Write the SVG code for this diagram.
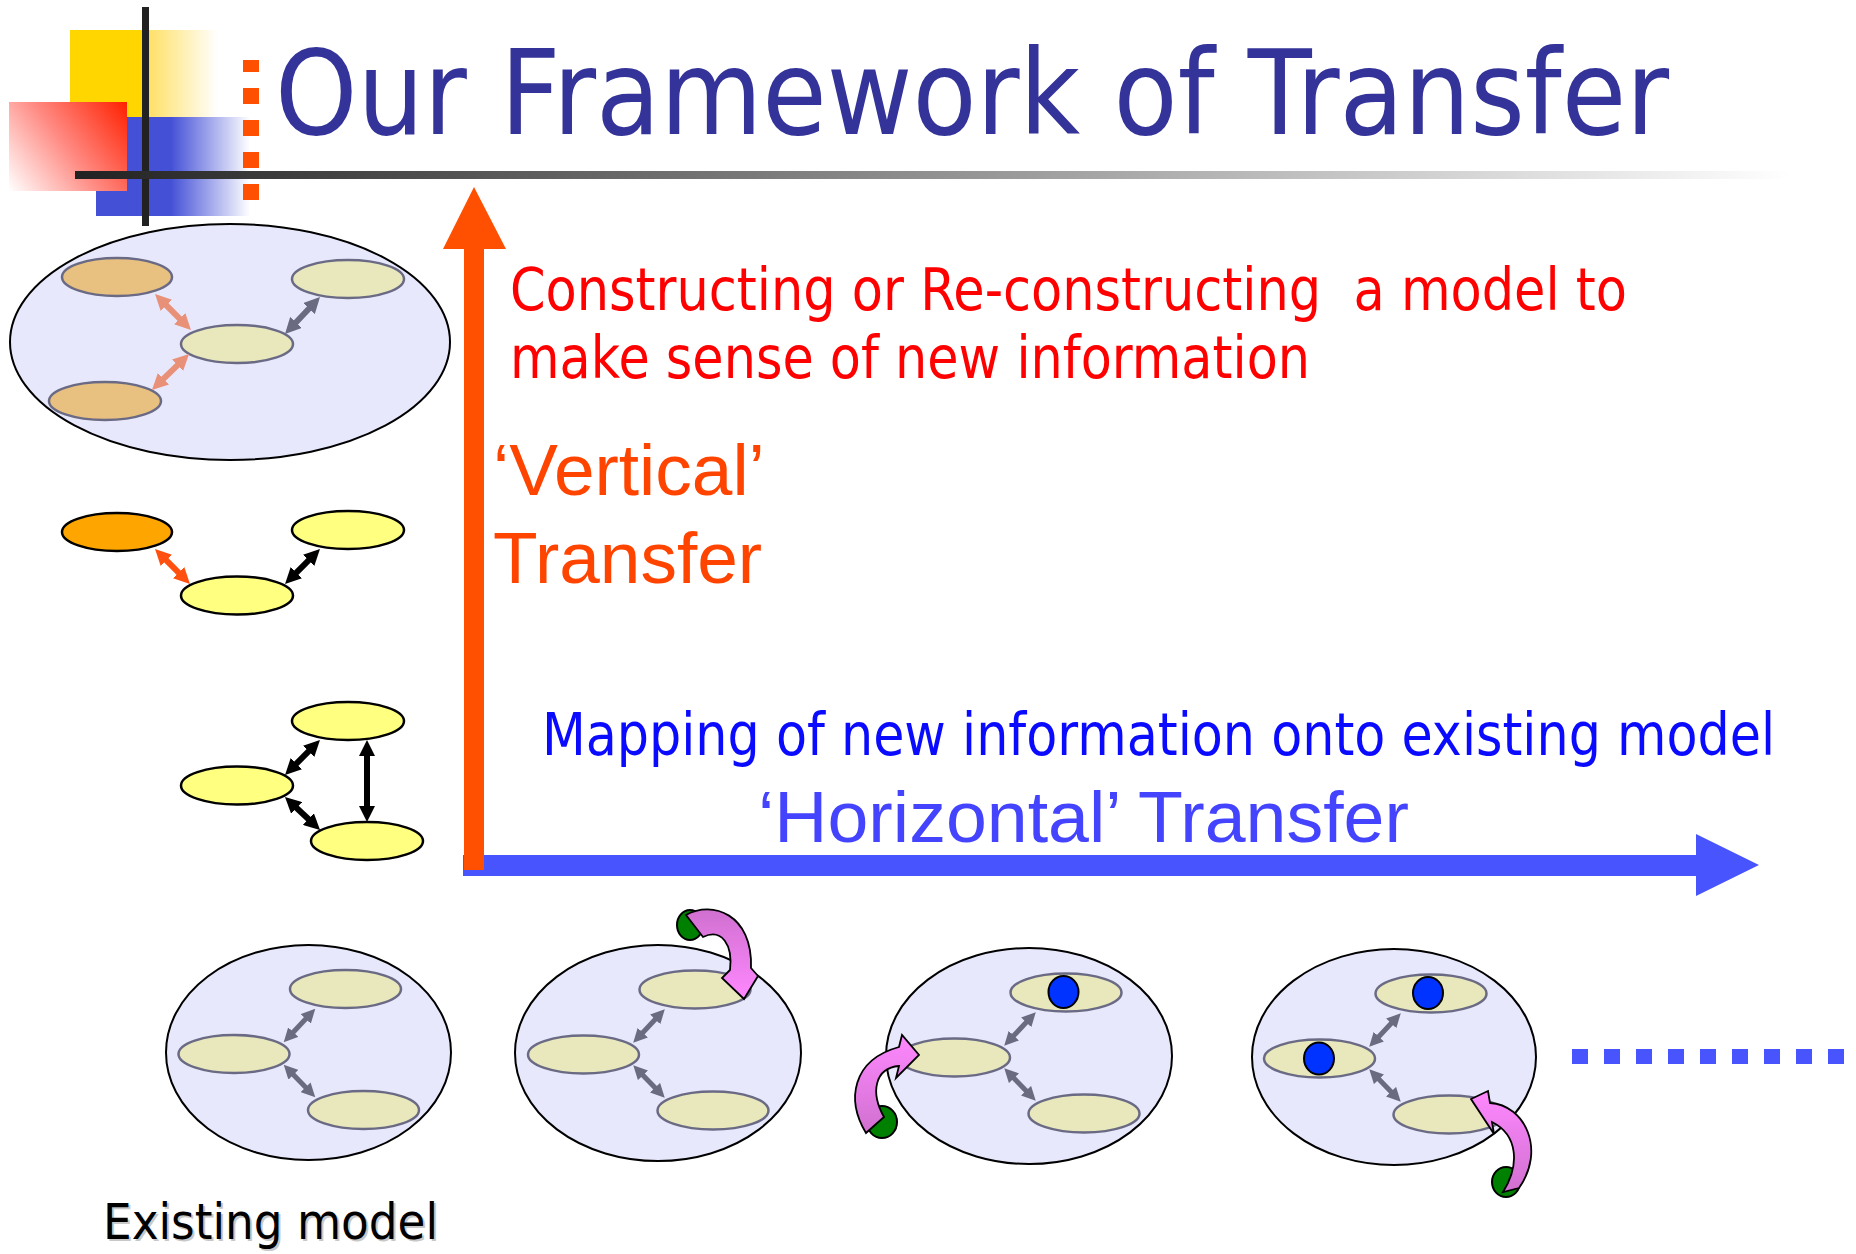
<svg xmlns="http://www.w3.org/2000/svg" width="1856" height="1254" viewBox="0 0 1856 1254">
  <defs>
    <linearGradient id="gYellow" x1="70" y1="0" x2="218" y2="0" gradientUnits="userSpaceOnUse">
      <stop offset="0" stop-color="#ffd600"/>
      <stop offset="0.53" stop-color="#ffd600"/>
      <stop offset="0.54" stop-color="#ffe16a"/>
      <stop offset="1" stop-color="#ffffff"/>
    </linearGradient>
    <linearGradient id="gBlue" x1="96" y1="0" x2="250" y2="0" gradientUnits="userSpaceOnUse">
      <stop offset="0" stop-color="#4450d6"/>
      <stop offset="0.49" stop-color="#4450d6"/>
      <stop offset="0.5" stop-color="#4a56d8"/>
      <stop offset="1" stop-color="#ffffff"/>
    </linearGradient>
    <linearGradient id="gRed" x1="127" y1="102" x2="9" y2="191" gradientUnits="userSpaceOnUse">
      <stop offset="0" stop-color="#ff2000"/>
      <stop offset="0.5" stop-color="#ff8880"/>
      <stop offset="1" stop-color="#ffffff"/>
    </linearGradient>
    <linearGradient id="gRule" x1="75" y1="0" x2="1790" y2="0" gradientUnits="userSpaceOnUse">
      <stop offset="0" stop-color="#222222"/>
      <stop offset="1" stop-color="#ffffff"/>
    </linearGradient>
    <linearGradient id="pinkDown" x1="0" y1="0" x2="0" y2="1">
      <stop offset="0" stop-color="#d070d0"/>
      <stop offset="1" stop-color="#ff88ff"/>
    </linearGradient>
    <linearGradient id="pinkUp" x1="0" y1="1" x2="0" y2="0">
      <stop offset="0" stop-color="#d070d0"/>
      <stop offset="1" stop-color="#ff88ff"/>
    </linearGradient>

    <marker id="mSalmon" viewBox="0 -8 16 16" markerUnits="userSpaceOnUse" markerWidth="16" markerHeight="16" refX="8" refY="0" orient="auto-start-reverse">
      <path d="M0,-8 L16,0 L0,8 z" fill="#e89078"/>
    </marker>
    <marker id="mGrey" viewBox="0 -8 16 16" markerUnits="userSpaceOnUse" markerWidth="16" markerHeight="16" refX="8" refY="0" orient="auto-start-reverse">
      <path d="M0,-8 L16,0 L0,8 z" fill="#6a6a80"/>
    </marker>
    <marker id="mOrange" viewBox="0 -8 16 16" markerUnits="userSpaceOnUse" markerWidth="16" markerHeight="16" refX="8" refY="0" orient="auto-start-reverse">
      <path d="M0,-8 L16,0 L0,8 z" fill="#ff5010"/>
    </marker>
    <marker id="mBlack" viewBox="0 -8 16 16" markerUnits="userSpaceOnUse" markerWidth="16" markerHeight="16" refX="8" refY="0" orient="auto-start-reverse">
      <path d="M0,-8 L16,0 L0,8 z" fill="#000000"/>
    </marker>
    <marker id="mGreySm" viewBox="0 -7 14 14" markerUnits="userSpaceOnUse" markerWidth="14" markerHeight="14" refX="7" refY="0" orient="auto-start-reverse">
      <path d="M0,-7 L14,0 L0,7 z" fill="#6a6a80"/>
    </marker>
  </defs>

  <style>
    .outer { fill: #e8e8fc; stroke: #000000; stroke-width: 2; }
    .soft { fill: #e8e8bc; stroke: #6a6a85; stroke-width: 2.5; }
    .softOrange { fill: #e8c080; stroke: #6a6a85; stroke-width: 2.5; }
    .bright { fill: #ffff80; stroke: #000000; stroke-width: 2.5; }
    .brightOrange { fill: #ffa500; stroke: #000000; stroke-width: 2.5; }
    .dot { fill: #0033ff; stroke: #000000; stroke-width: 2; }
    .seed { fill: #008000; stroke: #000000; stroke-width: 2; }
    .swoop { stroke: #000000; stroke-width: 1.8; stroke-linejoin: miter; }
    .link { fill: none; stroke-width: 6; }
    .link-sm { fill: none; stroke-width: 5; }
    .tahoma { font-family: "DejaVu Sans", Verdana, sans-serif; }
    .arial { font-family: "Liberation Sans", Arial, sans-serif; }
  </style>

  <rect x="0" y="0" width="1856" height="1254" fill="#ffffff"/>

  <!-- corner ornament -->
  <g id="ornament">
    <rect x="70" y="30" width="148" height="87" fill="url(#gYellow)"/>
    <rect x="96" y="117" width="154" height="99" fill="url(#gBlue)"/>
    <rect x="9" y="102" width="118" height="89" fill="url(#gRed)"/>
    <rect x="142" y="7" width="7" height="219" fill="#222222"/>
    <rect x="75" y="171" width="1715" height="8" fill="url(#gRule)"/>
    <g fill="#ff4f00">
      <rect x="243" y="60" width="16" height="12"/>
      <rect x="243" y="88" width="16" height="16"/>
      <rect x="243" y="120" width="16" height="16"/>
      <rect x="243" y="152" width="16" height="16"/>
      <rect x="243" y="184" width="16" height="16"/>
    </g>
  </g>

  <!-- narrowed sans for the title -->
  <text id="title" class="tahoma" transform="scale(0.873 1)" x="315" y="134" font-size="118" fill="#333399" textLength="1597" lengthAdjust="spacingAndGlyphs">Our Framework of Transfer</text>

  <!-- axes: horizontal first, vertical drawn over it -->
  <g id="axes">
    <path id="axis-horizontal" d="M463,855 H1696 V834 L1759,865 L1696,896 V876 H463 Z" fill="#4855ff"/>
    <path id="axis-vertical" d="M464,870 V249 H443 L474,187 L506,249 H484 V870 Z" fill="#ff4f00"/>
  </g>

  <!-- axis captions -->
  <g id="captions">
    <text class="tahoma" x="510" y="310" font-size="58" fill="#ff0000" style="white-space:pre" textLength="1117" lengthAdjust="spacingAndGlyphs">Constructing or Re-constructing  a model to</text>
    <text class="tahoma" x="510" y="378" font-size="58" fill="#ff0000" textLength="800" lengthAdjust="spacingAndGlyphs">make sense of new information</text>
    <text class="arial" x="493" y="495" font-size="73" fill="#ff4400">‘Vertical’</text>
    <text class="arial" x="493" y="583" font-size="73" fill="#ff4400">Transfer</text>
    <text class="tahoma" transform="scale(0.874 1)" x="620" y="755" font-size="58" fill="#0a0aff" textLength="1411" lengthAdjust="spacingAndGlyphs">Mapping of new information onto existing model</text>
    <text class="arial" x="758" y="842" font-size="73" fill="#4444ff" textLength="651" lengthAdjust="spacingAndGlyphs">‘Horizontal’ Transfer</text>
  </g>

  <!-- left column: reconstructed model, intermediate model, initial model -->
  <g id="model-reconstructed">
    <ellipse class="outer" cx="230" cy="342" rx="220" ry="118"/>
    <ellipse class="softOrange" cx="117" cy="277" rx="55" ry="19"/>
    <ellipse class="soft" cx="348" cy="279" rx="56" ry="19"/>
    <ellipse class="soft" cx="237" cy="344" rx="56" ry="19"/>
    <ellipse class="softOrange" cx="105" cy="401" rx="56" ry="19"/>
  </g>

  <g id="model-intermediate">
    <ellipse class="brightOrange" cx="117" cy="532" rx="55" ry="19"/>
    <ellipse class="bright" cx="348" cy="530" rx="56" ry="19"/>
    <ellipse class="bright" cx="237" cy="595.5" rx="56" ry="19"/>
  </g>

  <g id="model-initial">
    <ellipse class="bright" cx="348" cy="721" rx="56" ry="19"/>
    <ellipse class="bright" cx="237" cy="785.5" rx="56" ry="19"/>
    <ellipse class="bright" cx="367" cy="841" rx="56" ry="19"/>
  </g>

  <!-- bottom row: existing model and successive mappings -->
  <g id="model-existing">
    <ellipse class="outer" cx="308.5" cy="1052.5" rx="142.5" ry="107.5"/>
    <ellipse class="soft" cx="345.5" cy="989" rx="55.5" ry="19"/>
    <ellipse class="soft" cx="234" cy="1054" rx="55.5" ry="19"/>
    <ellipse class="soft" cx="363.5" cy="1110" rx="55.5" ry="19"/>
  </g>

  <g id="model-map-1">
    <ellipse class="outer" cx="658" cy="1053" rx="143" ry="108"/>
    <g transform="translate(349.5 0.5)">
      <ellipse class="soft" cx="345.5" cy="989" rx="55.5" ry="19"/>
      <ellipse class="soft" cx="234" cy="1054" rx="55.5" ry="19"/>
      <ellipse class="soft" cx="363.5" cy="1110" rx="55.5" ry="19"/>
    </g>
  </g>

  <g id="model-map-2">
    <ellipse class="outer" cx="1029" cy="1056" rx="143" ry="108"/>
    <g transform="translate(720.5 3.5)">
      <ellipse class="soft" cx="345.5" cy="989" rx="55.5" ry="19"/>
      <ellipse class="soft" cx="234" cy="1054" rx="55.5" ry="19"/>
      <ellipse class="soft" cx="363.5" cy="1110" rx="55.5" ry="19"/>
    </g>
    <ellipse class="dot" cx="1063.5" cy="992" rx="15" ry="16"/>
  </g>

  <g id="model-map-3">
    <ellipse class="outer" cx="1394" cy="1057" rx="142" ry="108"/>
    <g transform="translate(1085.5 4.5)">
      <ellipse class="soft" cx="345.5" cy="989" rx="55.5" ry="19"/>
      <ellipse class="soft" cx="234" cy="1054" rx="55.5" ry="19"/>
      <ellipse class="soft" cx="363.5" cy="1110" rx="55.5" ry="19"/>
    </g>
    <ellipse class="dot" cx="1428" cy="993" rx="15" ry="16"/>
    <ellipse class="dot" cx="1319" cy="1058.5" rx="15" ry="16"/>
  </g>

  <!-- links between concepts -->
  <g id="connectors">
    <line class="link" x1="160.7" y1="299.7" x2="185.3" y2="324.3" stroke="#e89078" marker-start="url(#mSalmon)" marker-end="url(#mSalmon)"/>
    <line class="link" x1="157.7" y1="384.4" x2="183.3" y2="359.6" stroke="#e89078" marker-start="url(#mSalmon)" marker-end="url(#mSalmon)"/>
    <line class="link" x1="290.5" y1="328.2" x2="314.5" y2="302.8" stroke="#6a6a80" marker-start="url(#mGrey)" marker-end="url(#mGrey)"/>

    <line class="link" x1="160.7" y1="554.7" x2="184.3" y2="578.3" stroke="#ff5010" marker-start="url(#mOrange)" marker-end="url(#mOrange)"/>
    <line class="link" x1="290.7" y1="578.3" x2="314.3" y2="554.7" stroke="#000000" marker-start="url(#mBlack)" marker-end="url(#mBlack)"/>

    <line class="link" x1="290.7" y1="769.3" x2="314.3" y2="745.7" stroke="#000000" marker-start="url(#mBlack)" marker-end="url(#mBlack)"/>
    <line class="link" x1="290.8" y1="802.5" x2="314.2" y2="824.5" stroke="#000000" marker-start="url(#mBlack)" marker-end="url(#mBlack)"/>
    <line class="link" x1="367" y1="748" x2="367" y2="814" stroke="#000000" marker-start="url(#mBlack)" marker-end="url(#mBlack)"/>

    <g id="links-existing">
      <line class="link-sm" x1="288.5" y1="1037.2" x2="310.5" y2="1013.8" stroke="#6a6a80" marker-start="url(#mGreySm)" marker-end="url(#mGreySm)"/>
      <line class="link-sm" x1="288.6" y1="1069.7" x2="310.4" y2="1092.3" stroke="#6a6a80" marker-start="url(#mGreySm)" marker-end="url(#mGreySm)"/>
    </g>
    <g transform="translate(349.5 0.5)">
      <line class="link-sm" x1="288.5" y1="1037.2" x2="310.5" y2="1013.8" stroke="#6a6a80" marker-start="url(#mGreySm)" marker-end="url(#mGreySm)"/>
      <line class="link-sm" x1="288.6" y1="1069.7" x2="310.4" y2="1092.3" stroke="#6a6a80" marker-start="url(#mGreySm)" marker-end="url(#mGreySm)"/>
    </g>
    <g transform="translate(720.5 3.5)">
      <line class="link-sm" x1="288.5" y1="1037.2" x2="310.5" y2="1013.8" stroke="#6a6a80" marker-start="url(#mGreySm)" marker-end="url(#mGreySm)"/>
      <line class="link-sm" x1="288.6" y1="1069.7" x2="310.4" y2="1092.3" stroke="#6a6a80" marker-start="url(#mGreySm)" marker-end="url(#mGreySm)"/>
    </g>
    <g transform="translate(1085.5 4.5)">
      <line class="link-sm" x1="288.5" y1="1037.2" x2="310.5" y2="1013.8" stroke="#6a6a80" marker-start="url(#mGreySm)" marker-end="url(#mGreySm)"/>
      <line class="link-sm" x1="288.6" y1="1069.7" x2="310.4" y2="1092.3" stroke="#6a6a80" marker-start="url(#mGreySm)" marker-end="url(#mGreySm)"/>
    </g>
  </g>

  <!-- new information entering each model -->
  <g id="incoming-1">
    <ellipse class="seed" cx="690" cy="925" rx="13" ry="15"/>
    <path class="swoop" fill="url(#pinkDown)" d="M686,915 C712,900 753,914 751,968 L758,976 L744,999 L722,978 L730,970 C733,945 722,928 703,937 Z"/>
  </g>
  <g id="incoming-2">
    <ellipse class="seed" cx="882" cy="1122" rx="15" ry="16"/>
    <path class="swoop" fill="url(#pinkUp)" d="M866,1133 C846,1100 852,1060 899,1047 L902,1035 L919,1055 L896,1078 L899,1066 C875,1068 870,1092 884,1117 Z"/>
  </g>
  <g id="incoming-3">
    <ellipse class="seed" cx="1506" cy="1182" rx="14" ry="15"/>
    <path class="swoop" fill="url(#pinkUp)" d="M1503,1192 C1520,1165 1518,1135 1492,1122 L1494,1134 L1471,1099 L1488,1091 L1490,1103 C1525,1105 1546,1150 1519,1188 Z"/>
  </g>

  <!-- continuation dots -->
  <g id="continuation" fill="#4855ff">
    <rect x="1572" y="1049" width="16" height="15"/>
    <rect x="1604" y="1049" width="16" height="15"/>
    <rect x="1636" y="1049" width="16" height="15"/>
    <rect x="1668" y="1049" width="16" height="15"/>
    <rect x="1700" y="1049" width="16" height="15"/>
    <rect x="1732" y="1049" width="16" height="15"/>
    <rect x="1764" y="1049" width="16" height="15"/>
    <rect x="1796" y="1049" width="16" height="15"/>
    <rect x="1828" y="1049" width="16" height="15"/>
  </g>

  <g id="label-existing">
    <text class="tahoma" x="105" y="1241" font-size="50" fill="#c8c8c8" textLength="335" lengthAdjust="spacingAndGlyphs">Existing model</text>
    <text class="tahoma" x="103" y="1239" font-size="50" fill="#000000" textLength="335" lengthAdjust="spacingAndGlyphs">Existing model</text>
  </g>
</svg>
